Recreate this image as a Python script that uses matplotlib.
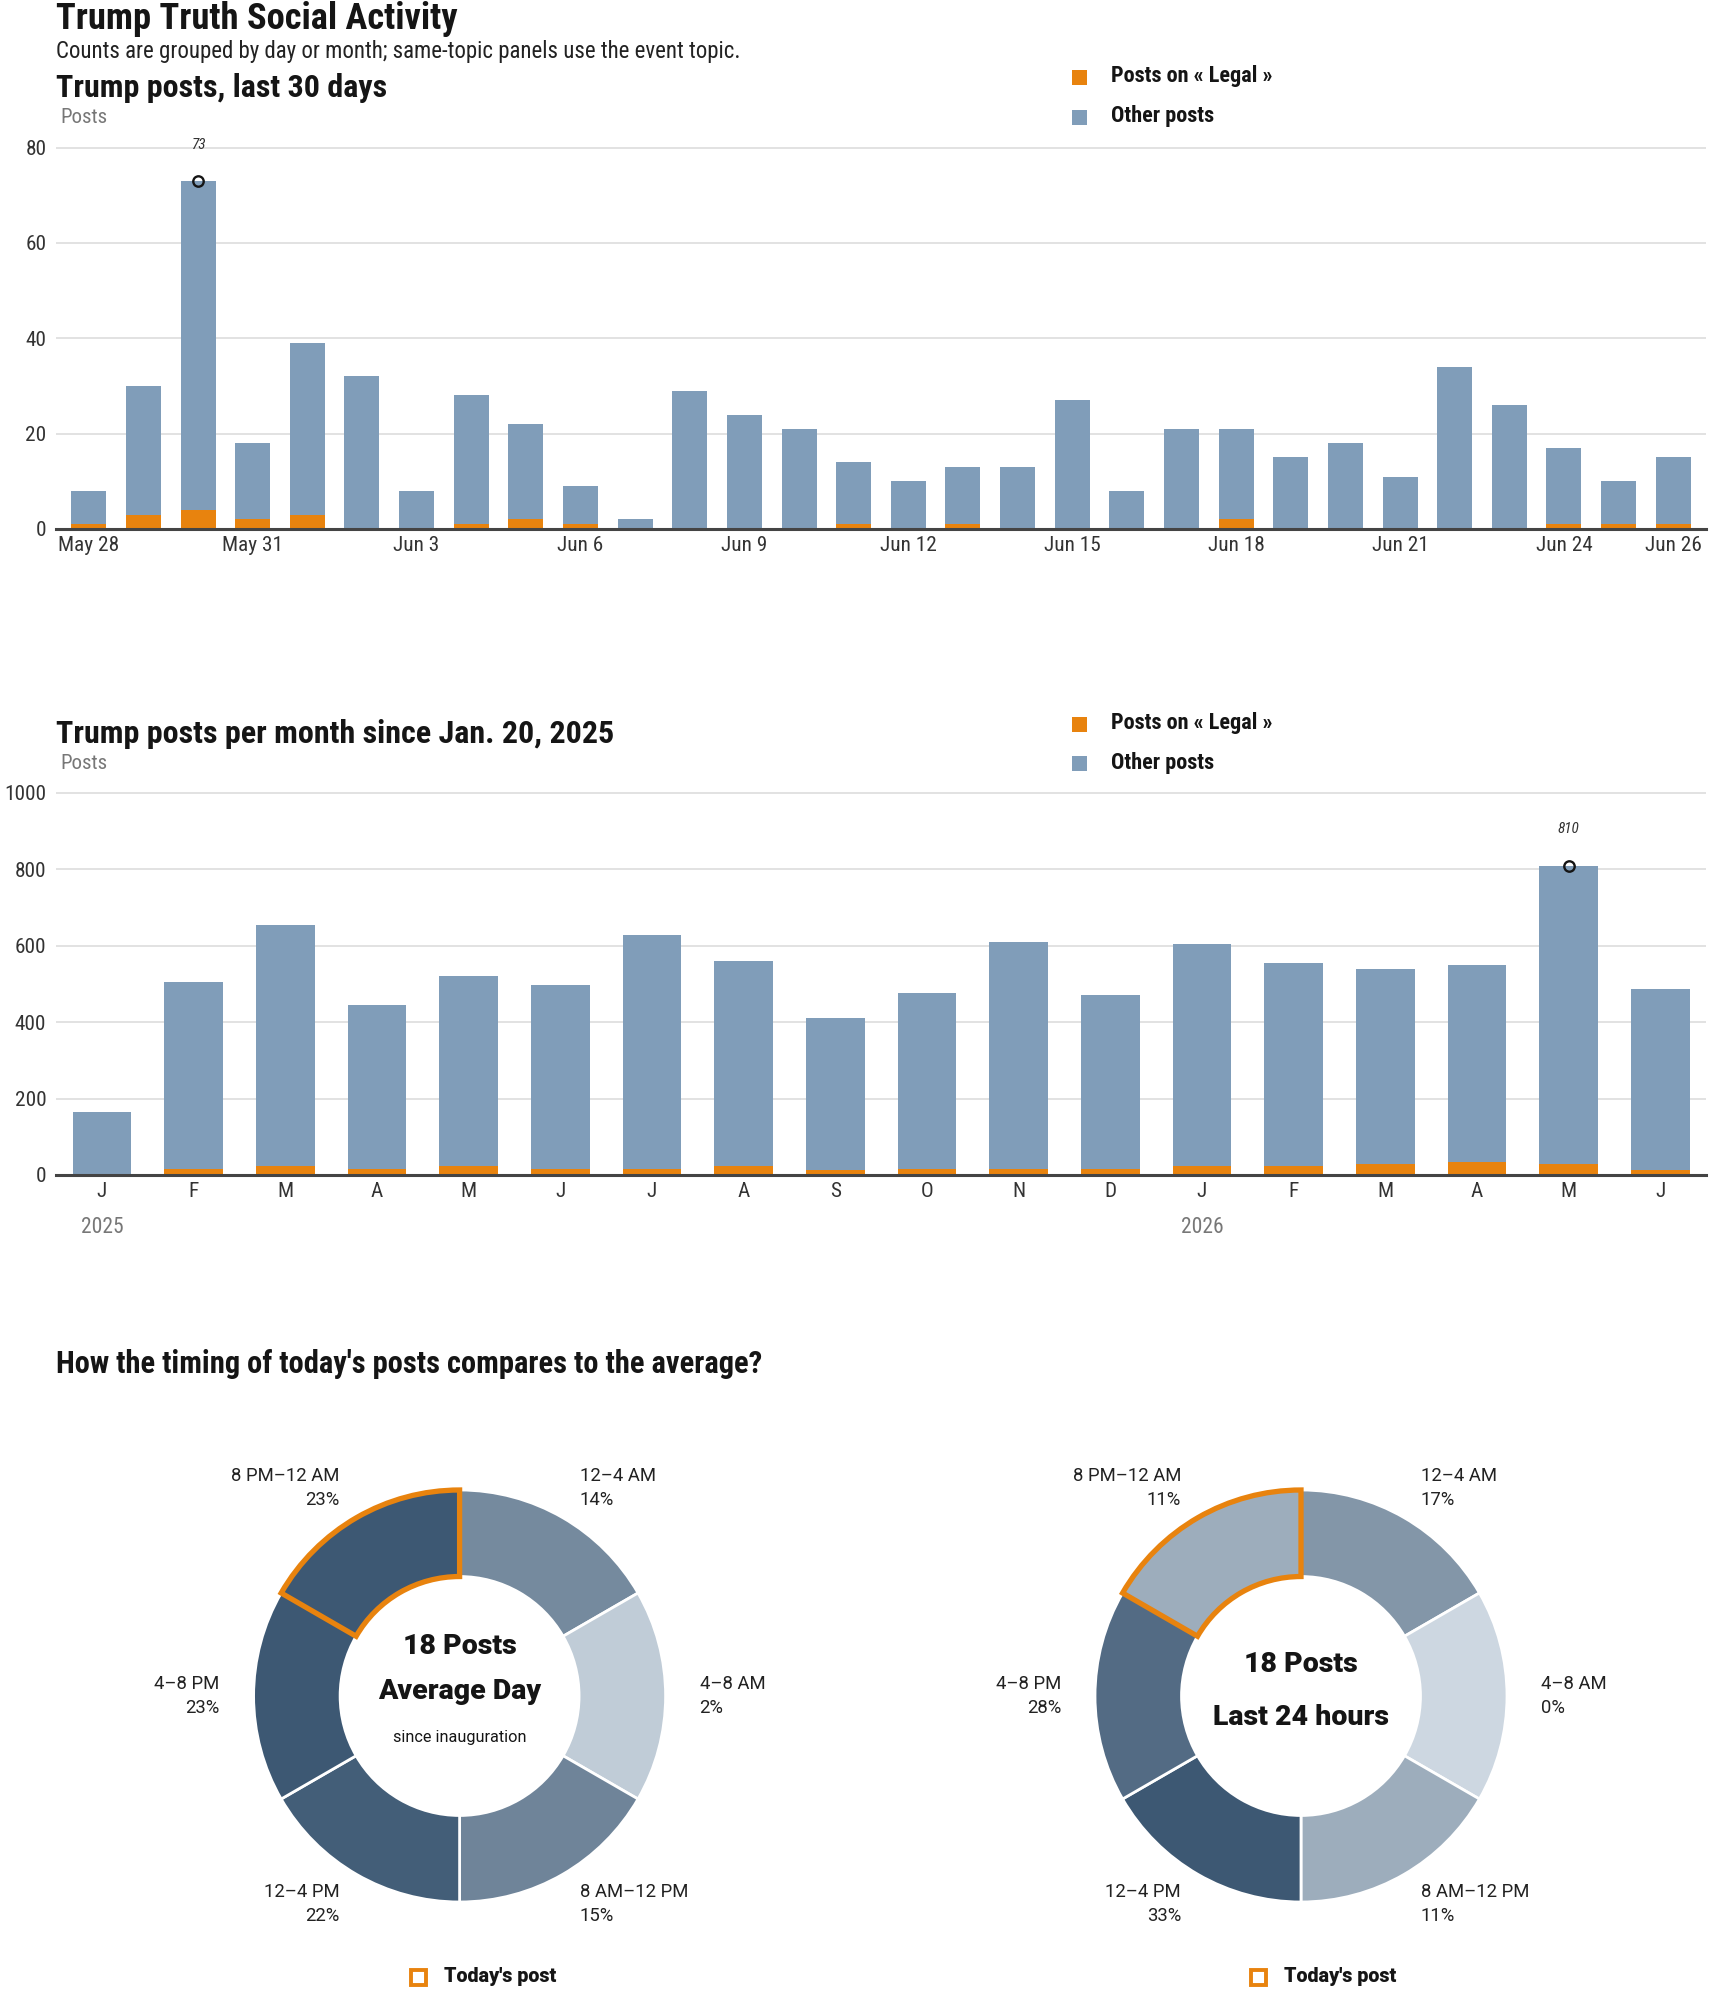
import matplotlib
matplotlib.use("Agg")
import matplotlib.pyplot as plt
from matplotlib import font_manager as fm
from matplotlib.patches import Rectangle
from matplotlib.colors import to_rgb
import numpy as np
import pandas as pd

# ---- data ----
day_dates = pd.date_range("2026-05-28", "2026-06-26", freq="D")
day_total = [8, 30, 73, 18, 39, 32, 8, 28, 22, 9, 2, 29, 24, 21, 14,
             10, 13, 13, 27, 8, 21, 21, 15, 18, 11, 34, 26, 17, 10, 15]
day_legal = [1, 3, 4, 2, 3, 0, 0, 1, 2, 1, 0, 0, 0, 0, 1,
             0, 1, 0, 0, 0, 0, 2, 0, 0, 0, 0, 0, 1, 1, 1]

month_labels = ["J", "F", "M", "A", "M", "J", "J", "A", "S", "O", "N", "D",
                "J", "F", "M", "A", "M", "J"]
month_total = [165, 505, 654, 446, 520, 498, 628, 559, 412, 477, 611, 472,
               606, 556, 538, 549, 810, 488]
month_legal = [0, 17, 23, 17, 23, 17, 17, 24, 12, 17, 17, 17,
               23, 24, 30, 35, 30, 12]
year_labels = ["2025", "2026"]
year_pos = [0, 12]

slots = ["12–4 AM", "4–8 AM", "8 AM–12 PM", "12–4 PM", "4–8 PM", "8 PM–12 AM"]
avg_pct = [14, 2, 15, 22, 23, 23]
today_pct = [17, 0, 11, 33, 28, 11]
today_slot = "8 PM–12 AM"

ORANGE = "#e8830e"
BLUE = "#809db9"
DARK = "#151515"
GREY = "#777777"
LIGHT_SEG = "#cdd7e1"
DARK_SEG = "#3d5873"

W, H = 1710, 1993


def _w(f):
    w = f.weight
    if isinstance(w, str):
        w = fm.weight_dict.get(w, 400)
    return int(w)


def pick(cands, min_weight=0):
    # first family in cands that has a face at least that heavy
    for c in cands:
        if any(f.name == c and _w(f) >= min_weight for f in fm.fontManager.ttflist):
            return c
    return "DejaVu Sans"


NARROW = pick(["Roboto Condensed", "Liberation Sans Narrow", "DejaVu Sans"])
NARROW_B = pick(["Roboto Condensed", "Liberation Sans Narrow", "DejaVu Sans"], 700)
REG = pick(["Roboto", "Lato", "Open Sans", "DejaVu Sans"])
HEAVY = pick(["Roboto", "Lato", "Open Sans", "DejaVu Sans"], 800)
if HEAVY == "DejaVu Sans":
    HEAVY = pick(["Roboto", "Lato", "Open Sans", "DejaVu Sans"], 700)


def fy(y):
    return 1 - y / H


fig = plt.figure(figsize=(W / 100, H / 100), dpi=100)
fig.patch.set_facecolor("white")

# headings
fig.text(56 / W, fy(29), "Trump Truth Social Activity", family=NARROW_B, weight="bold",
         fontsize=26.3, color=DARK, va="baseline")
fig.text(56 / W, fy(58), "Counts are grouped by day or month; same-topic panels use the event topic.",
         family=NARROW, fontsize=16.5, color="#222222", va="baseline")


def legend(y1, y2):
    for y, c, lab in [(y1, ORANGE, "Posts on « Legal »"), (y2, BLUE, "Other posts")]:
        fig.add_artist(Rectangle((1072 / W, fy(y + 8.5)), 15 / W, 15 / H, transform=fig.transFigure,
                                 color=c, lw=0))
        fig.text(1111 / W, fy(y), lab, family=NARROW_B, weight="bold", fontsize=16,
                 color=DARK, va="center")


def bar_panel(top, bottom, ymax, yticks, totals, legals, title, title_y, posts_y):
    ppu = (bottom - top) / yticks[-1]
    top_px = bottom - ymax * ppu
    ax = fig.add_axes([56 / W, fy(bottom), 1650 / W, (bottom - top_px) / H])
    n = len(totals)
    x = np.arange(n)
    legal = np.array(legals)
    other = np.array(totals) - legal
    ax.bar(x, legal, width=0.64, color=ORANGE, lw=0)
    ax.bar(x, other, bottom=legal, width=0.64, color=BLUE, lw=0)
    ax.set_xlim(-0.6, n - 0.4)
    ax.set_ylim(0, ymax)
    ax.set_yticks(yticks)
    ax.grid(axis="y", color="#dddddd", lw=1.2)
    ax.set_axisbelow(True)
    for s in ["left", "right", "top"]:
        ax.spines[s].set_visible(False)
    ax.spines["bottom"].set_color("#444444")
    ax.spines["bottom"].set_linewidth(2.2)
    ax.spines["bottom"].set_zorder(4)
    ax.tick_params(axis="both", length=0, labelsize=15.3, labelcolor="#333333")
    ax.tick_params(axis="y", pad=7)
    ax.tick_params(axis="x", pad=5)
    for lab in ax.get_yticklabels():
        lab.set_family(NARROW)

    # peak marker
    i = int(np.argmax(totals))
    ax.plot(i, totals[i], "o", mfc="none", mec=DARK, ms=7.5, mew=1.7, zorder=5, clip_on=False)
    ax.annotate(f"{totals[i]}", (i, totals[i]), xytext=(0, 26), textcoords="offset points",
                ha="center", va="center", fontsize=11, style="italic", family=NARROW,
                color="#333333", annotation_clip=False)

    fig.text(56 / W, fy(title_y), title, family=NARROW_B, weight="bold", fontsize=23,
             color=DARK, va="baseline")
    fig.text(60 / W, fy(posts_y), "Posts", family=NARROW, fontsize=15, color=GREY, va="baseline")
    return ax


# ---- panel 1: last 30 days ----
ax1 = bar_panel(147.5, 529, 82, [0, 20, 40, 60, 80], day_total, day_legal,
                "Trump posts, last 30 days", 97, 123)
tick_idx = list(range(0, len(day_dates), 3))
if tick_idx[-1] != len(day_dates) - 1:
    tick_idx.append(len(day_dates) - 1)
ax1.set_xticks(tick_idx)
ax1.set_xticklabels([f"{day_dates[i]:%b} {day_dates[i].day}" for i in tick_idx], family=NARROW)
legend(76, 116)

# ---- panel 2: per month ----
ax2 = bar_panel(793, 1175, 1020, [0, 200, 400, 600, 800, 1000], month_total, month_legal,
                "Trump posts per month since Jan. 20, 2025", 743, 769)
ax2.set_xticks(np.arange(len(month_labels)))
ax2.set_xticklabels(month_labels, family=NARROW)
ax2.set_xlim(-0.5, len(month_labels) - 0.5)
for lab, p in zip(year_labels, year_pos):
    ax2.annotate(lab, (p, 0), xycoords=("data", "axes fraction"), xytext=(0, -37.5),
                 textcoords="offset points", ha="center", va="center", fontsize=15.5,
                 family=NARROW, color=GREY, annotation_clip=False)
legend(723, 763)

# ---- donuts ----
fig.text(56 / W, fy(1373), "How the timing of today's posts compares to the average?",
         family=NARROW_B, weight="bold", fontsize=22, color=DARK, va="baseline")

R_PX = 206.0


def blend(t):
    a = np.array(to_rgb(LIGHT_SEG))
    b = np.array(to_rgb(DARK_SEG))
    return tuple(a + (b - a) * t)


def donut(cx, cy, pcts, center_lines, legend_x):
    half = 300
    L = half / R_PX
    ax = fig.add_axes([(cx - half) / W, fy(cy + half), 2 * half / W, 2 * half / H])
    vmax = max(pcts)
    colors = [blend(p / vmax) for p in pcts]
    wedges, _ = ax.pie(np.ones(len(slots)), radius=1, startangle=90, counterclock=False,
                       colors=colors,
                       wedgeprops=dict(width=0.42, edgecolor="white", linewidth=2))
    hw = wedges[slots.index(today_slot)]
    hw.set_edgecolor(ORANGE)
    hw.set_linewidth(3.8)
    hw.set_joinstyle("miter")
    hw.set_zorder(5)
    ax.set_xlim(-L, L)
    ax.set_ylim(-L, L)
    ax.set_aspect("equal")
    ax.axis("off")

    step = 360 / len(slots)
    for k, (slot, p) in enumerate(zip(slots, pcts)):
        ang = np.deg2rad(90 - step * k - step / 2)
        x, y = 1.165 * np.cos(ang), 1.165 * np.sin(ang)
        ha = "left" if x > 0.01 else "right"
        ax.text(x, y, f"{slot}\n{p}%", ha=ha, va="center", multialignment=ha,
                fontsize=13.3, family=REG, color="#222222", linespacing=1.45)

    for txt, dy, size, weight, fam in center_lines:
        ax.text(0, dy, txt, ha="center", va="center", fontsize=size, weight=weight,
                family=fam, color=DARK)

    fig.add_artist(Rectangle((legend_x / W, fy(1985)), 15 / W, 15 / H, transform=fig.transFigure,
                             fill=False, ec=ORANGE, lw=2.8))
    fig.text((legend_x + 33) / W, fy(1977), "Today's post", family=HEAVY, weight="heavy",
             fontsize=14.2, color=DARK, va="center")


donut(459.6, 1696, avg_pct,
      [("18 Posts", 0.24, 20.5, "heavy", HEAVY),
       ("Average Day", 0.02, 20.5, "heavy", HEAVY),
       ("since inauguration", -0.2, 11.7, "normal", REG)], 411)
donut(1301, 1696, today_pct,
      [("18 Posts", 0.155, 20.5, "heavy", HEAVY),
       ("Last 24 hours", -0.105, 20.5, "heavy", HEAVY)], 1251)

fig.savefig("out.png", dpi=100, facecolor="white")
